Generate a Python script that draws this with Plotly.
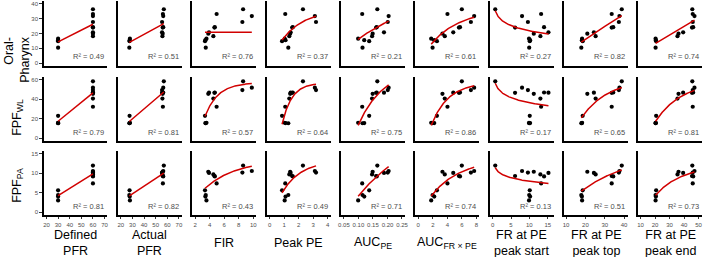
import numpy as np
import plotly.graph_objects as go

# ---------------- data (13 samples) ----------------
oral_pharynx = [36.4, 24.0, 31.8, 27.8, 14.8, 16.5, 10.4, 15.5, 19.9, 18.2, 33.2, 24.3, 20.8]
fpf_wl       = [58.5, 46.7, 52.0, 49.5, 23.0, 15.8, 15.3, 15.5, 45.6, 40.7, 32.3, 47.0, 46.8]
fpf_pa       = [12.0, 9.3, 10.6, 10.2, 5.6, 3.0, 4.4, 4.0, 10.4, 9.7, 7.4, 9.2, 10.1]

defined_pfr = [60, 60, 60, 60, 30, 30, 30, 30, 60, 60, 60, 60, 60]
actual_pfr  = [57.0, 56.0, 56.5, 55.5, 27.5, 27.8, 27.3, 27.6, 56.0, 55.8, 56.2, 56.5, 55.5]
fir         = [8.6, 4.65, 9.8, 8.5, 3.35, 3.55, 3.45, 3.4, 3.8, 4.5, 4.95, 4.7, 3.9]
peak_pe     = [2.3, 1.56, 3.12, 3.2, 0.86, 1.04, 1.29, 1.1, 1.42, 1.36, 1.08, 1.6, 1.45]
auc_pe      = [0.165, 0.161, 0.204, 0.201, 0.137, 0.099, 0.114, 0.12, 0.149, 0.147, 0.113, 0.163, 0.188]
auc_fr_pe   = [6.0, 5.6, 7.7, 7.25, 2.57, 1.78, 1.97, 2.2, 3.33, 3.65, 4.02, 5.75, 4.82]
fr_start    = [0.7, 6.1, 8.0, 9.6, 10.1, 9.9, 9.95, 10.2, 11.2, 13.0, 13.2, 14.0, 15.2]
fr_top      = [38.8, 33.6, 37.6, 37.3, 18.6, 18.3, 17.9, 18.2, 21.0, 25.3, 33.6, 34.4, 24.4]
fr_end      = [45.7, 45.5, 47.2, 46.0, 20.8, 20.4, 20.4, 20.6, 36.2, 35.5, 46.0, 46.3, 39.4]

r2_values = [
    [0.49, 0.51, 0.76, 0.37, 0.21, 0.61, 0.27, 0.82, 0.74],
    [0.79, 0.81, 0.57, 0.64, 0.75, 0.86, 0.17, 0.65, 0.81],
    [0.81, 0.82, 0.43, 0.49, 0.71, 0.74, 0.13, 0.51, 0.73],
]

row_labels = ["Oral-<br>Pharynx", "FPF<sub>WL</sub>", "FPF<sub>PA</sub>"]
col_labels = ["Defined<br>PFR", "Actual<br>PFR", "FIR", "Peak PE", "AUC<sub>PE</sub>",
              "AUC<sub>FR × PE</sub>", "FR at PE<br>peak start", "FR at PE<br>peak top",
              "FR at PE<br>peak end"]

x_ticks = [[20, 30, 40, 50, 60, 70], [20, 30, 40, 50, 60, 70], [2, 4, 6, 8, 10],
           [0, 1, 2, 3, 4], [0.05, 0.10, 0.15, 0.20, 0.25], [0, 2, 4, 6, 8],
           [0, 5, 10, 15], [10, 20, 30, 40], [10, 20, 30, 40, 50]]
x_ticktext = [["20", "30", "40", "50", "60", "70"], ["20", "30", "40", "50", "60", "70"],
              ["2", "4", "6", "8", "10"], ["0", "1", "2", "3", "4"],
              ["0.05", "0.10", "0.15", "0.20", "0.25"], ["0", "2", "4", "6", "8"],
              ["0", "5", "10", "15"], ["10", "20", "30", "40"], ["10", "20", "30", "40", "50"]]
y_ticks = [[0, 10, 20, 30, 40], [0, 20, 40, 60], [0, 5, 10, 15]]

# fit model per panel: "lin", "log", "flat" or a number = curvature (rate x span) of
# a 3-parameter exponential rise  y = a + c*exp(-k x)
fit_models = [["lin", "lin", "flat", 1.5, 0.5, 1.5, "log", 0.1, 0.1],
              ["lin", "lin", 3.6, 3.5, 1.2, 2.5, "log", 1.5, 1.5],
              ["lin", "lin", 1.5, 1.8, 0.5, 1.5, "log", 0.8, 1.5]]

# ---------------- styles / layout ----------------
W, H = 708, 257
x_ranges = [[17.5, 72.5], [17.5, 72.5], [1.6, 10.4], [-0.2, 4.2], [0.04, 0.26],
            [-0.4, 8.4], [-0.8, 16.6], [9, 42], [8.6, 52.6]]
y_ranges = [[-2, 42], [-3, 63], [-0.75, 15.75]]

col_left = [41 + 75.1 * c for c in range(9)]
panel_w = 64.5
row_top = [1, 77, 151]
row_bot = [66, 141, 215]

FONT = "Liberation Sans, Arial, sans-serif"
RED = "#d10000"
GRAY = "#4d4d4d"

xs_cols = [defined_pfr, actual_pfr, fir, peak_pe, auc_pe, auc_fr_pe, fr_start, fr_top, fr_end]
ys_rows = [oral_pharynx, fpf_wl, fpf_pa]


def fit_curve(x, y, model):
    x = np.asarray(x, float)
    y = np.asarray(y, float)
    xs = np.linspace(x.min(), x.max(), 120)
    if model == "lin":
        b, a = np.polyfit(x, y, 1)
        return xs, a + b * xs
    if model == "log":
        b, a = np.polyfit(np.log(x), y, 1)
        return xs, a + b * np.log(xs)
    if model == "flat":
        return xs, np.full_like(xs, np.median(y))
    k = float(model) / (x.max() - x.min())
    A = np.column_stack([np.ones_like(x), np.exp(-k * x)])
    coef, *_ = np.linalg.lstsq(A, y, rcond=None)
    return xs, coef[0] + coef[1] * np.exp(-k * xs)


fig = go.Figure()
layout = dict(width=W, height=H, margin=dict(l=0, r=0, t=0, b=0), autosize=False,
              paper_bgcolor="white", plot_bgcolor="white", showlegend=False,
              font=dict(family=FONT))
annotations = []

for r in range(3):
    for c in range(9):
        i = r * 9 + c + 1
        sfx = "" if i == 1 else str(i)
        xa, ya = "x" + sfx, "y" + sfx
        x0 = col_left[c] / W
        x1 = (col_left[c] + panel_w) / W
        y0 = 1 - row_bot[r] / H
        y1 = 1 - row_top[r] / H
        layout["xaxis" + sfx] = dict(
            domain=[x0, x1], range=x_ranges[c], anchor=ya, showgrid=False, zeroline=False,
            showline=True, linecolor="black", linewidth=1.8,
            ticks="outside" if r == 2 else "", ticklen=2.5, tickwidth=1, tickcolor="#333333",
            tickvals=x_ticks[c], ticktext=x_ticktext[c], showticklabels=(r == 2),
            tickfont=dict(size=6, color=GRAY, family=FONT), fixedrange=True)
        layout["yaxis" + sfx] = dict(
            domain=[y0, y1], range=y_ranges[r], anchor=xa, showgrid=False, zeroline=False,
            showline=True, linecolor="black", linewidth=1.8,
            ticks="outside" if c == 0 else "", ticklen=2.5, tickwidth=1, tickcolor="#333333",
            tickvals=y_ticks[r], showticklabels=(c == 0),
            tickfont=dict(size=6, color=GRAY, family=FONT), fixedrange=True)

        xv, yv = xs_cols[c], ys_rows[r]
        fig.add_trace(go.Scatter(x=xv, y=yv, mode="markers", xaxis=xa, yaxis=ya,
                                 marker=dict(color="black", size=4.2, line=dict(width=0))))
        fx, fy = fit_curve(xv, yv, fit_models[r][c])
        fig.add_trace(go.Scatter(x=fx, y=fy, mode="lines", xaxis=xa, yaxis=ya,
                                 line=dict(color=RED, width=1.5)))
        annotations.append(dict(xref=xa + " domain", yref=ya + " domain", x=0.985, y=0.14,
                                xanchor="right", yanchor="middle", showarrow=False,
                                text="R² = %.2f" % r2_values[r][c],
                                font=dict(size=7.5, color=GRAY, family=FONT)))

# column labels
for c in range(9):
    annotations.append(dict(xref="paper", yref="paper",
                            x=(col_left[c] + panel_w / 2) / W, y=1 - 243 / H,
                            xanchor="center", yanchor="middle", showarrow=False,
                            text=col_labels[c], font=dict(size=12.5, color="black", family=FONT)))

# row labels
row_label_pos = [(14, 59), (15, 117), (15, 185)]
for r in range(3):
    px, py = row_label_pos[r]
    annotations.append(dict(xref="paper", yref="paper", x=px / W, y=1 - py / H,
                            xanchor="center", yanchor="middle", showarrow=False, textangle=-90,
                            align="right", text=row_labels[r],
                            font=dict(size=12.5, color="black", family=FONT)))

layout["annotations"] = annotations
fig.update_layout(**layout)
fig.write_html("out.html")
